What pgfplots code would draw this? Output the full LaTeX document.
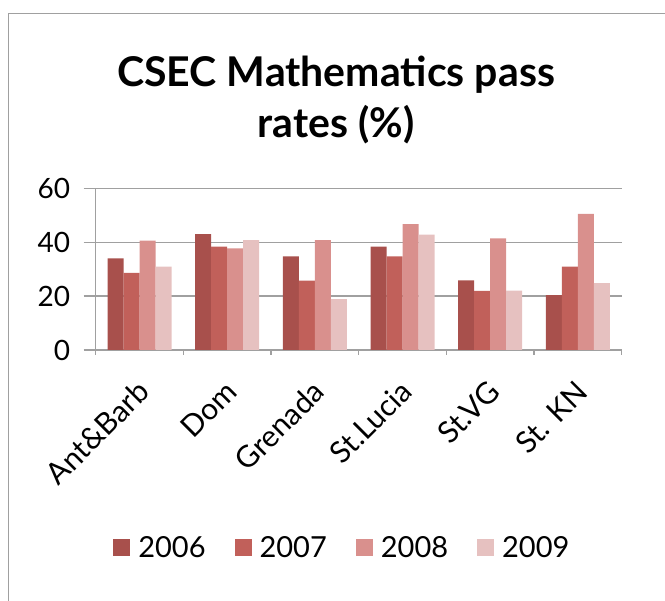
\documentclass[border=0pt]{standalone}
\usepackage{pgfplots}
\pgfplotsset{compat=1.18}
\usepackage{fontspec}
\setmainfont{Lato}
\definecolor{c1}{RGB}{168,80,76}
\definecolor{c2}{RGB}{193,96,90}
\definecolor{c3}{RGB}{217,144,141}
\definecolor{c4}{RGB}{230,193,192}
\definecolor{gridc}{RGB}{160,160,160}
\begin{document}
\begin{tikzpicture}
\path[use as bounding box] (0pt,0pt) rectangle (665pt,601pt);
\draw[gridc, line width=1.5pt] (8.3pt,0pt) -- (8.3pt,587.7pt) -- (665pt,587.7pt);
\node[font=\bfseries\fontsize{41}{51}\selectfont, align=center] at (336pt,501pt) {CSEC Mathematics pass\\rates (\%)};
\begin{axis}[
  at={(95.7pt,251pt)}, anchor=south west,
  scale only axis, width=526pt, height=161.7pt,
  xmin=-0.5, xmax=5.5, ymin=0, ymax=60,
  ybar, bar width=0.1825,
  axis x line*=bottom, axis y line*=left,
  axis line style={gridc, line width=1.3pt},
  ytick={0,20,40,60},
  ymajorgrids, grid style={gridc, line width=1.3pt},
  xtick={0,...,5},
  xticklabels={Ant\&Barb,Dom,Grenada,St.Lucia,St.VG,St. KN},
  minor xtick={-0.5,0.5,...,5.5},
  tick align=outside,
  x tick style={draw=none},
  minor x tick style={draw=gridc, line width=1.3pt},
  minor tick length=5pt,
  y tick style={gridc, line width=1.3pt},
  major tick length=12pt,
  yticklabel style={font=\fontsize{28}{30}\selectfont, xshift=-10pt},
  /pgf/number format/assume math mode=true,
  xticklabel style={font=\fontsize{30}{32}\selectfont, rotate=45, anchor=east, yshift=-20pt, xshift=-11pt},
  legend columns=-1,
  legend style={draw=none, at={(axis description cs:0.469,-1.2245)}, anchor=center,
    font=\fontsize{29}{31}\selectfont,
    /tikz/every odd column/.append style={column sep=6pt},
    /tikz/every even column/.append style={column sep=27pt}},
  legend image code/.code={\fill[#1] (0pt,-8pt) rectangle (17pt,9pt);},
]
\addplot[fill=c1, draw=none, bar shift=-0.27375] coordinates {(0,34) (1,43) (2,34.7) (3,38.4) (4,25.8) (5,20.4)};
\addplot[fill=c2, draw=none, bar shift=-0.09125] coordinates {(0,28.6) (1,38.4) (2,25.7) (3,34.7) (4,21.9) (5,30.9)};
\addplot[fill=c3, draw=none, bar shift=0.09125] coordinates {(0,40.6) (1,37.7) (2,40.8) (3,46.7) (4,41.4) (5,50.5)};
\addplot[fill=c4, draw=none, bar shift=0.27375] coordinates {(0,30.9) (1,40.8) (2,18.9) (3,42.8) (4,22) (5,24.8)};
\legend{2006,2007,2008,2009}
\end{axis}
\end{tikzpicture}
\end{document}
